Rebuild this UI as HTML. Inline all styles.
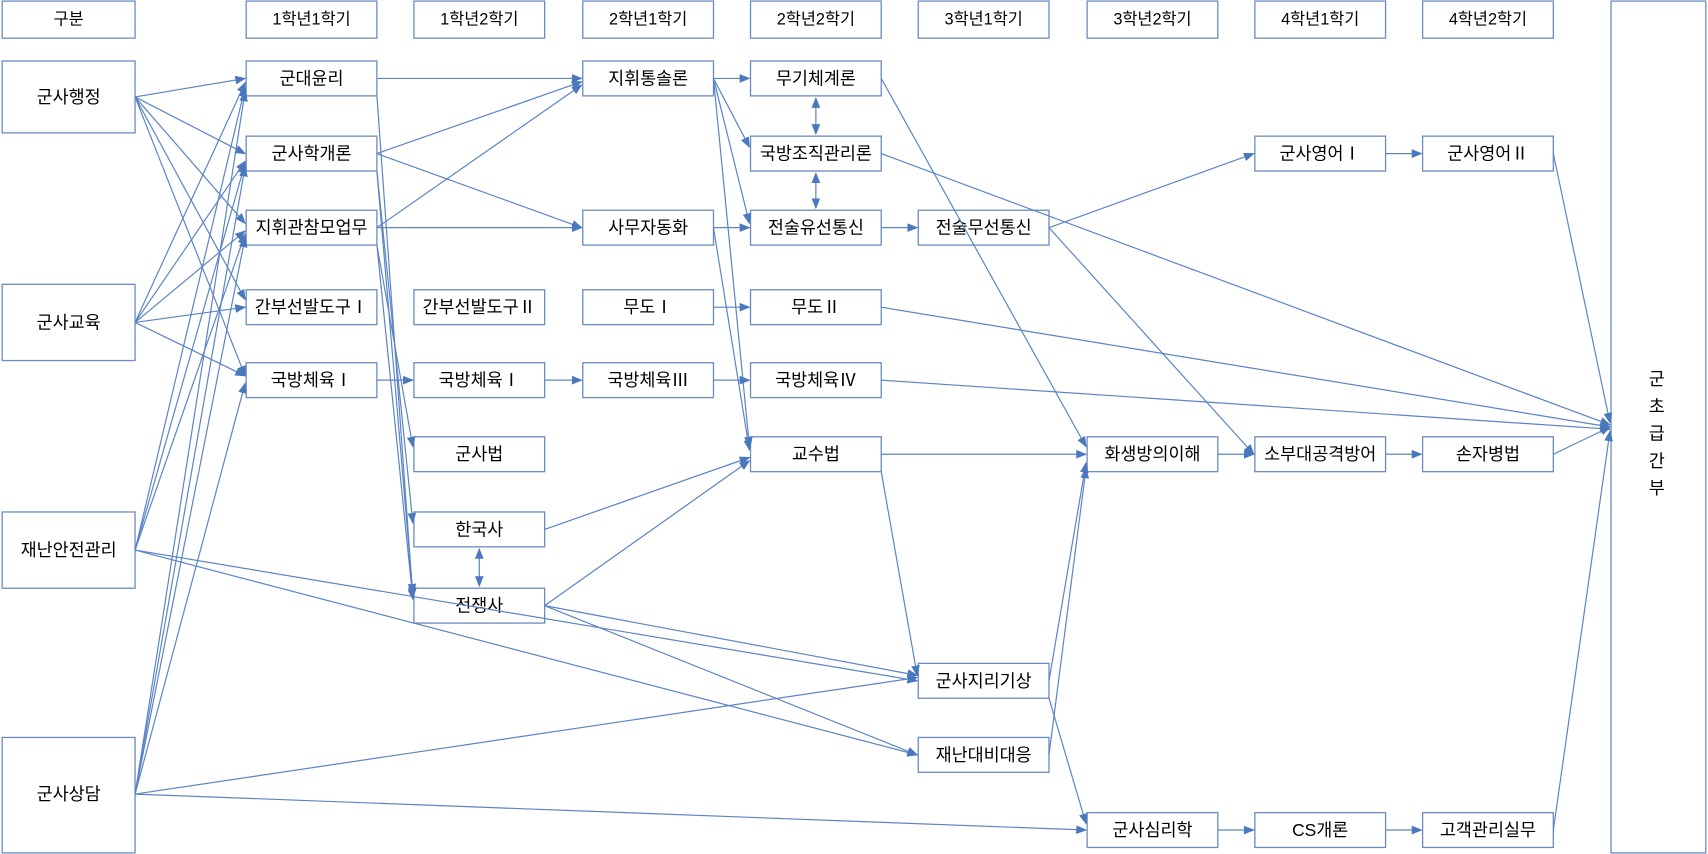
<!DOCTYPE html>
<html><head><meta charset="utf-8">
<style>
html,body{margin:0;padding:0;background:#fff;}
svg{display:block;}
text{font-family:"Liberation Sans","Noto Sans CJK KR","NanumGothic",sans-serif;font-size:16px;fill:#000;text-anchor:middle;dominant-baseline:central;}
.h text{font-size:15px;}
.b{fill:#fff;stroke:#6b8cc0;stroke-width:1.2;}
.l{stroke:#5b84c4;stroke-width:1.1;fill:none;marker-end:url(#a);}
.d{stroke:#5b84c4;stroke-width:1.1;fill:none;marker-end:url(#a);marker-start:url(#s);}
</style></head><body>
<svg width="1708" height="854" viewBox="0 0 1568 784" xmlns="http://www.w3.org/2000/svg">
<defs>
<marker id="a" markerWidth="10" markerHeight="8" refX="9" refY="4" orient="auto" markerUnits="userSpaceOnUse"><path d="M0,0 L10,4 L0,8 z" fill="#4a78bd"/></marker>
<marker id="s" markerWidth="10" markerHeight="8" refX="1" refY="4" orient="auto" markerUnits="userSpaceOnUse"><path d="M10,0 L0,4 L10,8 z" fill="#4a78bd"/></marker>
</defs>
<!-- headers -->
<g class="h">
<rect class="b" x="2" y="1" width="122" height="34"/><text x="63" y="18">구분</text>
<rect class="b" x="226" y="1" width="120" height="34"/><text x="286" y="18">1학년1학기</text>
<rect class="b" x="380" y="1" width="120" height="34"/><text x="440" y="18">1학년2학기</text>
<rect class="b" x="535" y="1" width="120" height="34"/><text x="595" y="18">2학년1학기</text>
<rect class="b" x="689" y="1" width="120" height="34"/><text x="749" y="18">2학년2학기</text>
<rect class="b" x="843" y="1" width="120" height="34"/><text x="903" y="18">3학년1학기</text>
<rect class="b" x="998" y="1" width="120" height="34"/><text x="1058" y="18">3학년2학기</text>
<rect class="b" x="1152" y="1" width="120" height="34"/><text x="1212" y="18">4학년1학기</text>
<rect class="b" x="1306" y="1" width="120" height="34"/><text x="1366" y="18">4학년2학기</text>
</g>
<rect class="b" x="1479" y="1" width="87" height="782"/>
<text x="1521" y="348">군</text><text x="1521" y="373">초</text><text x="1521" y="398">급</text><text x="1521" y="423">간</text><text x="1521" y="448">부</text>
<!-- left -->
<g>
<rect class="b" x="2" y="56" width="122" height="66"/><text x="63" y="89">군사행정</text>
<rect class="b" x="2" y="261" width="122" height="70"/><text x="63" y="296">군사교육</text>
<rect class="b" x="2" y="470" width="122" height="70"/><text x="63" y="505">재난안전관리</text>
<rect class="b" x="2" y="677" width="122" height="106"/><text x="63" y="729">군사상담</text>
</g>
<!-- nodes -->
<g>
<rect class="b" x="226" y="56" width="120" height="32"/><text x="286" y="72">군대윤리</text>
<rect class="b" x="226" y="125" width="120" height="32"/><text x="286" y="141">군사학개론</text>
<rect class="b" x="226" y="193" width="120" height="32"/><text x="286" y="209">지휘관참모업무</text>
<rect class="b" x="226" y="266" width="120" height="32"/><text x="286" y="282">간부선발도구Ⅰ</text>
<rect class="b" x="226" y="333" width="120" height="32"/><text x="286" y="349">국방체육Ⅰ</text>

<rect class="b" x="380" y="266" width="120" height="32"/><text x="440" y="282">간부선발도구Ⅱ</text>
<rect class="b" x="380" y="333" width="120" height="32"/><text x="440" y="349">국방체육Ⅰ</text>
<rect class="b" x="380" y="401" width="120" height="32"/><text x="440" y="417">군사법</text>
<rect class="b" x="380" y="470" width="120" height="32"/><text x="440" y="486">한국사</text>
<rect class="b" x="380" y="540" width="120" height="32"/><text x="440" y="556">전쟁사</text>

<rect class="b" x="535" y="56" width="120" height="32"/><text x="595" y="72">지휘통솔론</text>
<rect class="b" x="535" y="193" width="120" height="32"/><text x="595" y="209">사무자동화</text>
<rect class="b" x="535" y="266" width="120" height="32"/><text x="595" y="282">무도Ⅰ</text>
<rect class="b" x="535" y="333" width="120" height="32"/><text x="595" y="349">국방체육Ⅲ</text>

<rect class="b" x="689" y="56" width="120" height="32"/><text x="749" y="72">무기체계론</text>
<rect class="b" x="689" y="125" width="120" height="32"/><text x="749" y="141">국방조직관리론</text>
<rect class="b" x="689" y="193" width="120" height="32"/><text x="749" y="209">전술유선통신</text>
<rect class="b" x="689" y="266" width="120" height="32"/><text x="749" y="282">무도Ⅱ</text>
<rect class="b" x="689" y="333" width="120" height="32"/><text x="749" y="349">국방체육Ⅳ</text>
<rect class="b" x="689" y="401" width="120" height="32"/><text x="749" y="417">교수법</text>

<rect class="b" x="843" y="193" width="120" height="32"/><text x="903" y="209">전술무선통신</text>
<rect class="b" x="843" y="609" width="120" height="32"/><text x="903" y="625">군사지리기상</text>
<rect class="b" x="843" y="677" width="120" height="32"/><text x="903" y="693">재난대비대응</text>

<rect class="b" x="998" y="401" width="120" height="32"/><text x="1058" y="417">화생방의이해</text>
<rect class="b" x="998" y="746" width="120" height="32"/><text x="1058" y="762">군사심리학</text>

<rect class="b" x="1152" y="125" width="120" height="32"/><text x="1212" y="141">군사영어Ⅰ</text>
<rect class="b" x="1152" y="401" width="120" height="32"/><text x="1212" y="417">소부대공격방어</text>
<rect class="b" x="1152" y="746" width="120" height="32"/><text x="1212" y="762">CS개론</text>

<rect class="b" x="1306" y="125" width="120" height="32"/><text x="1366" y="141">군사영어Ⅱ</text>
<rect class="b" x="1306" y="401" width="120" height="32"/><text x="1366" y="417">손자병법</text>
<rect class="b" x="1306" y="746" width="120" height="32"/><text x="1366" y="762">고객관리실무</text>
</g>
<!-- edges -->
<g>
<line class="l" x1="124" y1="89" x2="225" y2="72"/>
<line class="l" x1="124" y1="89" x2="225" y2="141"/>
<line class="l" x1="124" y1="89" x2="225" y2="205"/>
<line class="l" x1="124" y1="89" x2="225" y2="275"/>
<line class="l" x1="124" y1="89" x2="225" y2="345"/>
<line class="l" x1="124" y1="296" x2="225" y2="76"/>
<line class="l" x1="124" y1="296" x2="225" y2="148"/>
<line class="l" x1="124" y1="296" x2="225" y2="212"/>
<line class="l" x1="124" y1="296" x2="225" y2="282"/>
<line class="l" x1="124" y1="296" x2="225" y2="345"/>
<line class="l" x1="124" y1="505" x2="225" y2="80"/>
<line class="l" x1="124" y1="505" x2="225" y2="150"/>
<line class="l" x1="124" y1="505" x2="225" y2="215"/>
<line class="l" x1="124" y1="505" x2="842" y2="625"/>
<line class="l" x1="124" y1="505" x2="842" y2="693"/>
<line class="l" x1="124" y1="729" x2="225" y2="84"/>
<line class="l" x1="124" y1="729" x2="225" y2="153"/>
<line class="l" x1="124" y1="729" x2="225" y2="218"/>
<line class="l" x1="124" y1="729" x2="225" y2="352"/>
<line class="l" x1="124" y1="729" x2="842" y2="622"/>
<line class="l" x1="124" y1="729" x2="997" y2="762"/>
<line class="l" x1="346" y1="72" x2="534" y2="72"/>
<line class="l" x1="346" y1="141" x2="534" y2="75"/>
<line class="l" x1="346" y1="209" x2="534" y2="78"/>
<line class="l" x1="346" y1="141" x2="534" y2="209"/>
<line class="l" x1="346" y1="209" x2="534" y2="209"/>
<line class="l" x1="346" y1="88" x2="379" y2="548"/>
<line class="l" x1="346" y1="157" x2="379" y2="480"/>
<line class="l" x1="346" y1="157" x2="379" y2="545"/>
<line class="l" x1="346" y1="225" x2="379" y2="410"/>
<line class="l" x1="346" y1="225" x2="379" y2="550"/>
<line class="l" x1="346" y1="349" x2="379" y2="349"/>
<line class="l" x1="500" y1="349" x2="534" y2="349"/>
<line class="l" x1="500" y1="486" x2="688" y2="420"/>
<line class="l" x1="500" y1="556" x2="688" y2="423"/>
<line class="d" x1="440" y1="504" x2="440" y2="538"/>
<line class="l" x1="500" y1="556" x2="842" y2="620"/>
<line class="l" x1="500" y1="556" x2="842" y2="693"/>
<line class="l" x1="655" y1="72" x2="688" y2="72"/>
<line class="l" x1="655" y1="72" x2="688" y2="135"/>
<line class="l" x1="655" y1="72" x2="688" y2="205"/>
<line class="l" x1="655" y1="72" x2="688" y2="410"/>
<line class="l" x1="655" y1="209" x2="688" y2="209"/>
<line class="l" x1="655" y1="209" x2="688" y2="413"/>
<line class="l" x1="655" y1="282" x2="688" y2="282"/>
<line class="l" x1="655" y1="349" x2="688" y2="349"/>
<line class="d" x1="749" y1="90" x2="749" y2="123"/>
<line class="d" x1="749" y1="159" x2="749" y2="191"/>
<line class="l" x1="809" y1="72" x2="997" y2="410"/>
<line class="l" x1="809" y1="141" x2="1478" y2="390"/>
<line class="l" x1="809" y1="209" x2="842" y2="209"/>
<line class="l" x1="809" y1="282" x2="1478" y2="392"/>
<line class="l" x1="809" y1="349" x2="1478" y2="394"/>
<line class="l" x1="809" y1="417" x2="997" y2="417"/>
<line class="l" x1="809" y1="433" x2="842" y2="620"/>
<line class="l" x1="963" y1="209" x2="1151" y2="141"/>
<line class="l" x1="963" y1="209" x2="1151" y2="417"/>
<line class="l" x1="963" y1="625" x2="997" y2="425"/>
<line class="l" x1="963" y1="693" x2="997" y2="430"/>
<line class="l" x1="963" y1="641" x2="997" y2="756"/>
<line class="l" x1="1118" y1="417" x2="1151" y2="417"/>
<line class="l" x1="1118" y1="762" x2="1151" y2="762"/>
<line class="l" x1="1272" y1="141" x2="1305" y2="141"/>
<line class="l" x1="1272" y1="417" x2="1305" y2="417"/>
<line class="l" x1="1272" y1="762" x2="1305" y2="762"/>
<line class="l" x1="1426" y1="141" x2="1478" y2="388"/>
<line class="l" x1="1426" y1="417" x2="1478" y2="392"/>
<line class="l" x1="1426" y1="762" x2="1478" y2="396"/>
</g>
</svg>
</body></html>
